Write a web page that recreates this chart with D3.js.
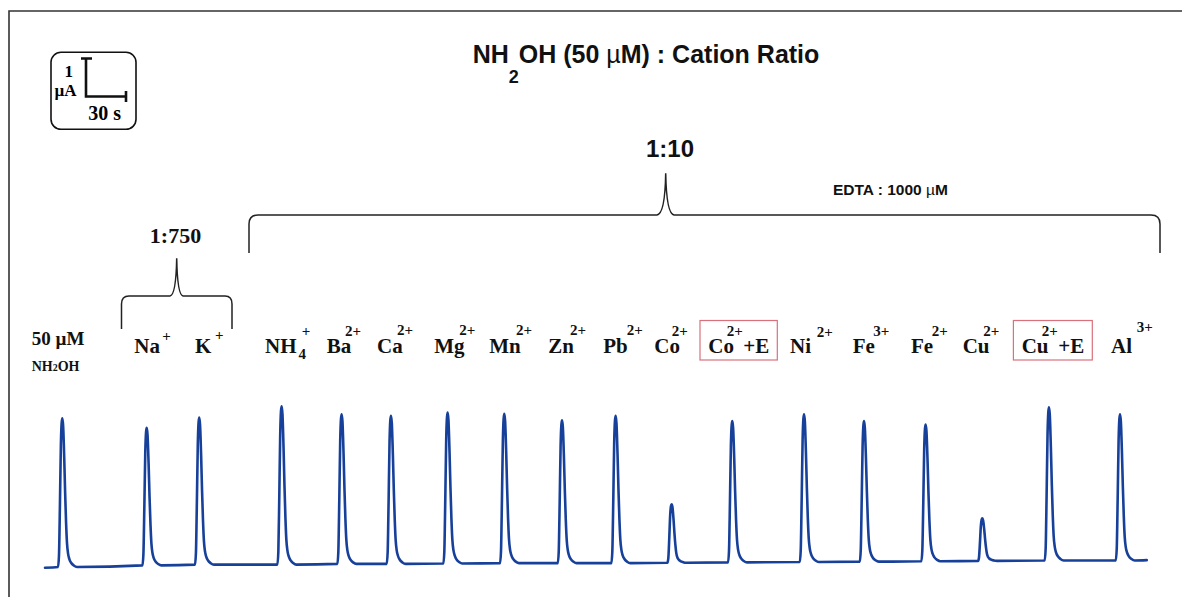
<!DOCTYPE html>
<html>
<head>
<meta charset="utf-8">
<script src="https://cdn.jsdelivr.net/npm/d3@7"></script>
<style>
  html, body { margin: 0; padding: 0; background: #fff; }
  svg { display: block; }
</style>
</head>
<body>
<svg id="chart" width="1182" height="597"></svg>
<script>
// Injection sequence: NH2OH standard, then each interfering cation
const peakNames = ["NH2OH", "Na", "K", "NH4", "Ba", "Ca", "Mg", "Mn", "Zn", "Pb", "Co", "Co+E", "Ni", "Fe3", "Fe2", "Cu", "Cu+E", "Al"];
// Injection times (s) and peak currents above baseline (µA)
const peakTimes = [13.0, 76.3, 115.7, 177.5, 222.5, 259.5, 302.0, 344.5, 387.8, 428.0, 470.0, 515.5, 569.3, 614.3, 660.5, 703.0, 753.0, 806.3];
const peakHeights = [3.91, 3.62, 3.87, 4.17, 3.94, 3.90, 3.97, 3.93, 3.76, 3.88, 1.54, 3.72, 3.89, 3.70, 3.60, 1.12, 4.03, 3.85];
// Baseline current (µA) under each peak, slow upward drift
const baseLevels = [0.02, 0.06, 0.08, 0.08, 0.10, 0.10, 0.11, 0.12, 0.12, 0.12, 0.13, 0.14, 0.15, 0.16, 0.17, 0.18, 0.19, 0.19];
const traceStart = [0, 0.0];
const traceEnd = [826.3, 0.20];
// Peak profile: time offset from apex (s), fraction of peak height
const profileOffsets = [-3.2, -2.5, -1.8, -1.1, -0.5, 0, 0.6, 1.4, 2.1, 2.8, 3.5, 4.3, 5.2, 6.6, 8.6, 11.0];
const profileFractions = [0, 0.08, 0.42, 0.82, 0.97, 1, 0.95, 0.74, 0.5, 0.3, 0.16, 0.09, 0.055, 0.028, 0.01, 0];

// Cation labels
const cationSymbols = ["Na", "K", "NH", "Ba", "Ca", "Mg", "Mn", "Zn", "Pb", "Co", "Co", "Ni", "Fe", "Fe", "Cu", "Cu", "Al"];
const cationCharges = ["+", "+", "+", "2+", "2+", "2+", "2+", "2+", "2+", "2+", "2+", "2+", "3+", "2+", "2+", "2+", "3+"];
const withEdta = [false, false, false, false, false, false, false, false, false, false, true, false, false, false, false, true, false];

// Label layout (px): symbol left edge, charge left edge, charge baseline
const symbolX = [134.3, 195, 265, 326.7, 377, 434.3, 489.3, 548.3, 603.3, 654.3, 708.3, 790, 852.7, 911, 962.7, 1021.7, 1111];
const chargeX = [162.3, 215, 301.7, 345, 397, 459.3, 516, 570, 626.7, 671.7, 726.7, 816.7, 873.3, 931.7, 983.3, 1041.7, 1136.7];
const chargeY = [341, 340, 336, 336, 335, 335, 335, 335, 335, 336, 336, 337, 336, 336, 336, 336, 332];

const svg = d3.select("#chart");
const serif = "'Liberation Serif', 'Times New Roman', serif";
const sans = "'Liberation Sans', Arial, sans-serif";

// Time axis: 30 s per 40 px; current axis: 1 µA per 38 px
const x = d3.scaleLinear().domain([0, 30]).range([45, 85]);
const y = d3.scaleLinear().domain([0, 1]).range([567.7, 529.7]);

// Frame
svg.append("path")
  .attr("d", "M9,597 L9,11 L1182,11")
  .attr("fill", "none").attr("stroke", "#333").attr("stroke-width", 1.6);

// Build amperometric trace from peaks
const pts = [traceStart];
peakTimes.forEach((t, i) => {
  profileOffsets.forEach((dt, k) => {
    pts.push([t + dt, baseLevels[i] + peakHeights[i] * profileFractions[k]]);
  });
});
pts.push(traceEnd);

const line = d3.line()
  .x(d => x(d[0]))
  .y(d => y(d[1]))
  .curve(d3.curveMonotoneX);

svg.append("path")
  .datum(pts)
  .attr("d", line)
  .attr("fill", "none")
  .attr("stroke", "#17409a")
  .attr("stroke-width", 2.6)
  .attr("stroke-linejoin", "round")
  .attr("stroke-linecap", "round");

// Scale bar box
const sb = svg.append("g");
sb.append("rect")
  .attr("x", 51).attr("y", 52.3).attr("width", 85).attr("height", 77).attr("rx", 10)
  .attr("fill", "none").attr("stroke", "#111").attr("stroke-width", 1.6);
const ox = 86, oy = 96.5;
const vLen = y(0) - y(1);
const hLen = x(30) - x(0);
sb.append("path")
  .attr("d", `M${ox - 5},${oy - vLen} L${ox + 6},${oy - vLen} M${ox},${oy - vLen} L${ox},${oy} L${ox + hLen},${oy} M${ox + hLen},${oy - 5.5} L${ox + hLen},${oy + 5.5}`)
  .attr("fill", "none").attr("stroke", "#111").attr("stroke-width", 2.6);
sb.append("text").attr("x", 64.5).attr("y", 77).attr("font-family", serif).attr("font-weight", "bold").attr("font-size", 17).text("1");
sb.append("text").attr("x", 54.5).attr("y", 95.7).attr("font-family", serif).attr("font-weight", "bold").attr("font-size", 17).text("µA");
sb.append("text").attr("x", 88.3).attr("y", 120).attr("font-family", serif).attr("font-weight", "bold").attr("font-size", 20).text("30 s");

// Title
const title = svg.append("text")
  .attr("x", 472.7).attr("y", 63.3)
  .attr("font-family", sans).attr("font-weight", "bold").attr("font-size", 25).attr("fill", "#111");
title.append("tspan").text("NH");
title.append("tspan").attr("font-size", 18).attr("dy", 20).text("2");
title.append("tspan").attr("dy", -20).text("OH (50 ");
title.append("tspan").attr("font-weight", "normal").text("µ");
title.append("tspan").text("M) : Cation Ratio");

// Ratio annotations
svg.append("text").attr("x", 670).attr("y", 156.7).attr("text-anchor", "middle")
  .attr("font-family", sans).attr("font-weight", "bold").attr("font-size", 24).attr("fill", "#111").text("1:10");
const edta = svg.append("text").attr("x", 833).attr("y", 195)
  .attr("font-family", sans).attr("font-weight", "bold").attr("font-size", 15.5).attr("fill", "#111");
edta.append("tspan").text("EDTA : 1000 ");
edta.append("tspan").attr("font-weight", "normal").text("µ");
edta.append("tspan").text("M");
svg.append("text").attr("x", 175.5).attr("y", 242.7).attr("text-anchor", "middle")
  .attr("font-family", serif).attr("font-weight", "bold").attr("font-size", 22).attr("fill", "#111").text("1:750");

// Braces
svg.append("path")
  .attr("d", "M249,253 L249,224 Q249,215 258,215 L657,215 Q665,214 665.7,173.3 Q666.5,214 674,215 L1151,215 Q1160,215 1160,224 L1160,253")
  .attr("fill", "none").attr("stroke", "#222").attr("stroke-width", 1.5);
svg.append("path")
  .attr("d", "M121.5,329 L121.5,304 Q121.5,296 129,296 L170,296 Q176,295 176.7,258.3 Q177.4,295 183,296 L225,296 Q232,296 232,304 L232,329")
  .attr("fill", "none").attr("stroke", "#222").attr("stroke-width", 1.5);

// Standard label
svg.append("text").attr("x", 31.7).attr("y", 345)
  .attr("font-family", serif).attr("font-weight", "bold").attr("font-size", 19).attr("fill", "#111").text("50 µM");
const std = svg.append("text").attr("x", 31.7).attr("y", 370.7)
  .attr("font-family", serif).attr("font-weight", "bold").attr("font-size", 14).attr("fill", "#111");
std.append("tspan").text("NH");
std.append("tspan").attr("font-size", 10).text("2");
std.append("tspan").text("OH");

// Cation labels: symbol, superscript charge (and subscript / +E where needed) in one text
const labelBase = 353;
const lg = svg.append("g").attr("font-family", serif).attr("font-weight", "bold").attr("fill", "#111");
cationSymbols.forEach((s, i) => {
  const t = lg.append("text").attr("x", symbolX[i]).attr("y", labelBase).attr("font-size", 21);
  t.append("tspan").text(s);
  if (s === "NH") {
    t.append("tspan").attr("x", 298.5).attr("y", 358.5).attr("font-size", 15).text("4");
  }
  t.append("tspan").attr("x", chargeX[i]).attr("y", chargeY[i]).attr("font-size", 15).text(cationCharges[i]);
  if (withEdta[i]) {
    const ex = chargeX[i] + 16.6;
    t.append("tspan").attr("x", ex).attr("y", labelBase).text("+E");
    lg.append("rect")
      .attr("x", symbolX[i] - 8.3).attr("y", 320.5)
      .attr("width", ex + 27 + 7 - (symbolX[i] - 8.3)).attr("height", 39.5)
      .attr("fill", "none").attr("stroke", "#d9707c").attr("stroke-width", 1.2);
  }
});
</script>
</body>
</html>
